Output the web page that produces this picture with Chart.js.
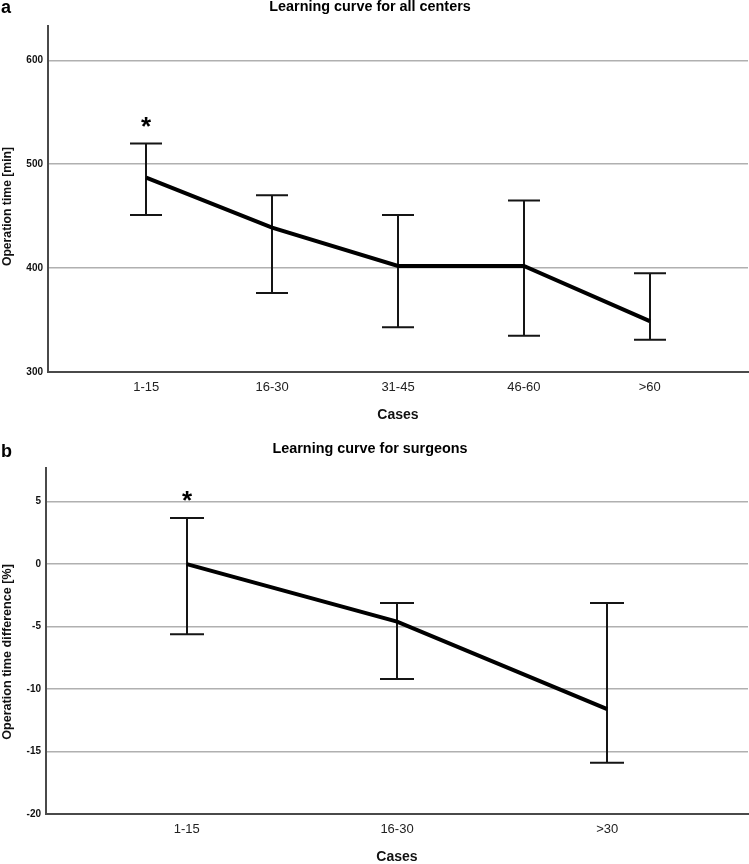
<!DOCTYPE html>
<html>
<head>
<meta charset="utf-8">
<script src="https://cdn.jsdelivr.net/npm/chart.js@4.4.0/dist/chart.umd.min.js"></script>
<style>
  html, body { margin: 0; padding: 0; background: #fff; }
  canvas { position: absolute; left: 0; }
  #chartA { top: 0; }
  #chartB { top: 430px; }
</style>
</head>
<body>
<canvas id="chartA" width="749" height="430"></canvas>
<canvas id="chartB" width="749" height="434"></canvas>
<script>
// Panel a - learning curve for all centers (operation time, min)
const casesA  = ['1-15', '16-30', '31-45', '46-60', '>60'];
const meanA   = [487, 439, 402, 402, 349];
const upperA  = [520, 470, 451, 465, 395];
const lowerA  = [451, 376, 343, 335, 331];
const starA   = [true, false, false, false, false];
const yTicksA = [300, 400, 500, 600];

// Panel b - learning curve for surgeons (operation time difference, %)
const casesB  = ['1-15', '16-30', '>30'];
const meanB   = [0, -4.6, -11.6];
const upperB  = [3.7, -3.1, -3.1];
const lowerB  = [-5.6, -9.2, -15.9];
const starB   = [true, false, false];
const yTicksB = [-20, -15, -10, -5, 0, 5];

const FONT = '"Liberation Sans", Arial, sans-serif';

// error bars + significance asterisk, drawn under the mean line
const errorBars = {
    id: 'errorBars',
    beforeDatasetsDraw(chart, args, opts) {
        const { ctx, scales: { x, y } } = chart;
        ctx.save();
        ctx.strokeStyle = '#151515';
        ctx.lineWidth = 2;
        opts.upper.forEach((u, i) => {
            const px = Math.round(x.getPixelForValue(i));
            const top = y.getPixelForValue(u);
            const bot = y.getPixelForValue(opts.lower[i]);
            ctx.beginPath();
            ctx.moveTo(px, top); ctx.lineTo(px, bot);
            ctx.moveTo(px - opts.cap, top); ctx.lineTo(px + opts.cap, top);
            ctx.moveTo(px - opts.cap, bot); ctx.lineTo(px + opts.cap, bot);
            ctx.stroke();
            if (opts.star[i]) {
                ctx.fillStyle = '#000';
                ctx.font = 'bold 26px ' + FONT;
                ctx.textAlign = 'center';
                ctx.textBaseline = 'middle';
                ctx.fillText('*', px, top - 16);
            }
        });
        ctx.restore();
    }
};

// panel letter, heading and rotated y-axis title
const panelText = {
    id: 'panelText',
    afterDraw(chart, args, opts) {
        const { ctx, chartArea } = chart;
        ctx.save();
        ctx.fillStyle = '#000';
        ctx.textBaseline = 'middle';
        ctx.textAlign = 'left';
        ctx.font = 'bold 18px ' + FONT;
        ctx.fillText(opts.letter, 1, opts.letterY);
        ctx.textAlign = 'center';
        ctx.font = 'bold 14.4px ' + FONT;
        ctx.fillText(opts.title, 370, opts.titleY);

        const cy = (chartArea.top + chartArea.bottom) / 2 + opts.yTitleShift;
        ctx.translate(7.5, cy);
        ctx.rotate(-Math.PI / 2);
        ctx.fillStyle = '#111';
        ctx.font = 'bold ' + opts.yTitleSize + 'px ' + FONT;
        ctx.fillText(opts.yTitle, 0, 0);
        ctx.restore();
    }
};

function makeChart(id, p) {
    const ctx = document.getElementById(id).getContext('2d');
    return new Chart(ctx, {
        type: 'line',
        data: {
            datasets: [{
                data: p.mean.map((v, i) => ({ x: i, y: v })),
                borderColor: '#000',
                borderWidth: 4,
                pointRadius: 0,
                tension: 0,
                fill: false
            }]
        },
        options: {
            responsive: false,
            animation: false,
            layout: { padding: { left: 0, right: 1, top: p.padTop, bottom: p.padBottom } },
            plugins: {
                legend: { display: false },
                tooltip: { enabled: false },
                errorBars: { upper: p.upper, lower: p.lower, star: p.star, cap: p.cap },
                panelText: {
                    letter: p.letter, letterY: p.letterY, title: p.title, titleY: p.titleY,
                    yTitle: p.yTitle, yTitleShift: p.yTitleShift, yTitleSize: p.yTitleSize
                }
            },
            scales: {
                x: {
                    type: 'linear',
                    min: -p.edge,
                    max: p.cases.length - 1 + p.edge,
                    afterFit: s => { s.height = 50; },
                    afterBuildTicks: s => { s.ticks = p.cases.map((c, i) => ({ value: i })); },
                    grid: { display: false, drawTicks: false },
                    border: { display: true, color: '#4a4a4a', width: 2 },
                    ticks: {
                        autoSkip: false, maxRotation: 0, padding: 8, color: '#222',
                        font: { family: FONT, size: 13 },
                        callback: v => p.cases[v]
                    },
                    title: {
                        display: true, text: 'Cases', color: '#111',
                        font: { family: FONT, size: 14, weight: 'bold', lineHeight: 1 },
                        padding: { top: 0, bottom: 0 }
                    }
                },
                y: {
                    min: p.yMin,
                    max: p.yMax,
                    afterFit: s => { s.width = p.yWidth; },
                    afterBuildTicks: s => { s.ticks = p.yTicks.map(v => ({ value: v })); },
                    grid: { color: '#b0b0b0', lineWidth: 1.5, drawTicks: false },
                    border: { display: true, color: '#4a4a4a', width: 2 },
                    ticks: {
                        padding: 5, color: '#111',
                        font: { family: FONT, size: 10, weight: 'bold' }
                    },
                    title: { display: false }
                }
            }
        },
        plugins: [errorBars, panelText]
    });
}

makeChart('chartA', {
    cases: casesA, mean: meanA, upper: upperA, lower: lowerA, star: starA, yTicks: yTicksA,
    yMin: 300, yMax: 633, edge: 0.78, cap: 16, yWidth: 48,
    padTop: 26, padBottom: 8,
    letter: 'a', letterY: 8, title: 'Learning curve for all centers', titleY: 7,
    yTitle: 'Operation time [min]', yTitleShift: 7.5, yTitleSize: 12.2
});

makeChart('chartB', {
    cases: casesB, mean: meanB, upper: upperB, lower: lowerB, star: starB, yTicks: yTicksB,
    yMin: -20, yMax: 7.7, edge: 0.67, cap: 17, yWidth: 46,
    padTop: 38, padBottom: 0,
    letter: 'b', letterY: 22, title: 'Learning curve for surgeons', titleY: 19,
    yTitle: 'Operation time difference [%]', yTitleShift: 11, yTitleSize: 12.6
});
</script>
</body>
</html>
